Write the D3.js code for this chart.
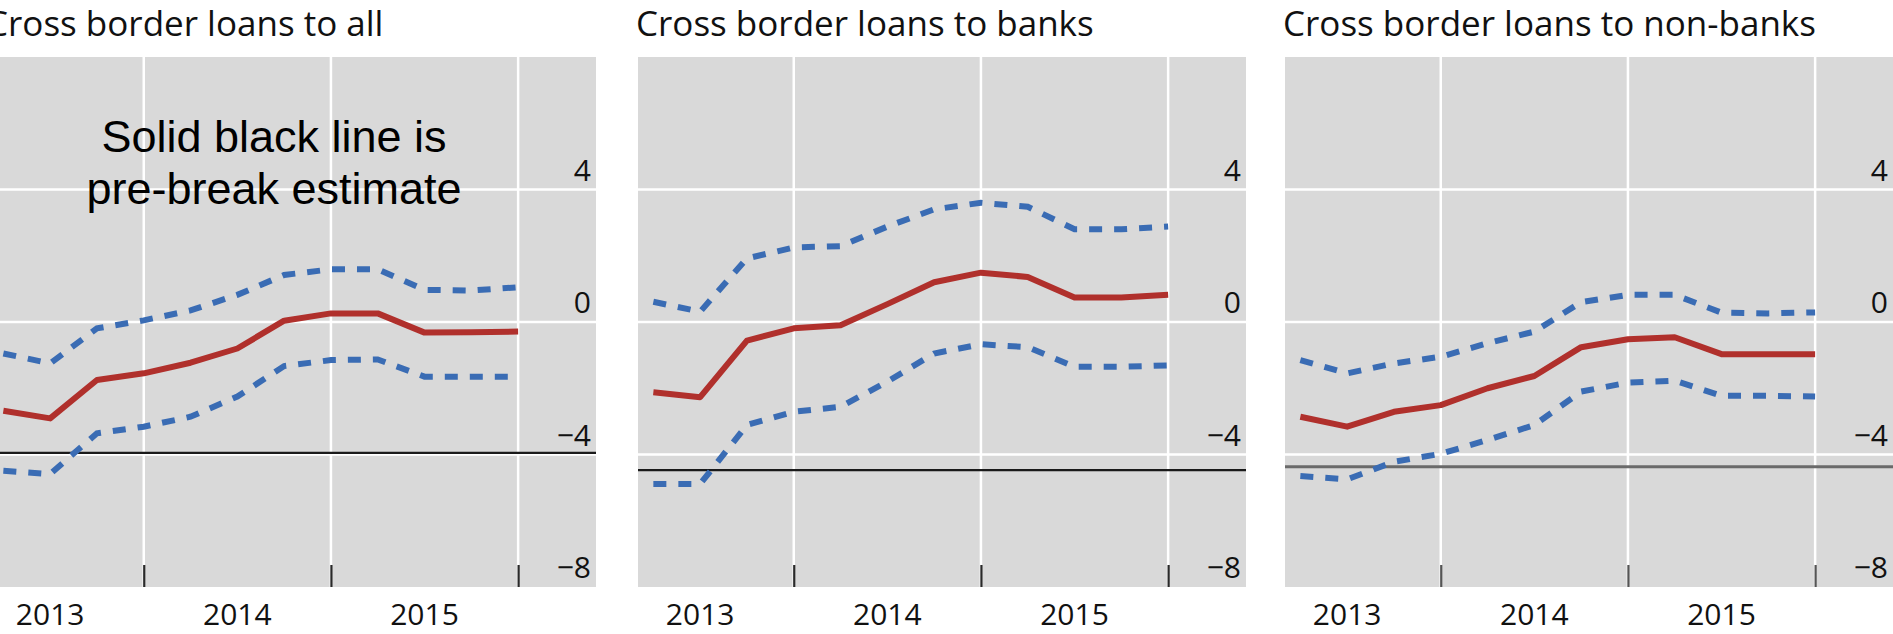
<!DOCTYPE html>
<html>
<head>
<meta charset="utf-8">
<script src="https://cdn.jsdelivr.net/npm/d3@7"></script>
<style>
  body { margin: 0; background: #fff; overflow: hidden; }
  svg text { font-family: "Open Sans", "Noto Sans", sans-serif; fill: #111; }
</style>
</head>
<body>
<div id="chart"></div>
<script>
// quarterly observations, end of quarter
const quarters = ["2013Q1", "2013Q2", "2013Q3", "2013Q4", "2014Q1", "2014Q2",
    "2014Q3", "2014Q4", "2015Q1", "2015Q2", "2015Q3", "2015Q4"]

const titles = ["Cross border loans to all", "Cross border loans to banks", "Cross border loans to non-banks"]

const allMid = [-2.68, -2.91, -1.75, -1.55, -1.23, -0.80, 0.04, 0.26, 0.26, -0.32, -0.31, -0.29]
const allUpper = [-0.95, -1.25, -0.19, 0.05, 0.35, 0.82, 1.42, 1.59, 1.59, 0.97, 0.95, 1.05]
const allLower = [-4.49, -4.59, -3.36, -3.16, -2.86, -2.25, -1.33, -1.15, -1.13, -1.65, -1.65, -1.65]

const banksMid = [-2.12, -2.27, -0.56, -0.19, -0.10, 0.54, 1.20, 1.49, 1.36, 0.74, 0.74, 0.82]
const banksUpper = [0.61, 0.31, 1.92, 2.25, 2.29, 2.88, 3.40, 3.60, 3.48, 2.80, 2.80, 2.88]
const banksLower = [-4.89, -4.89, -3.11, -2.71, -2.56, -1.80, -0.95, -0.67, -0.76, -1.35, -1.35, -1.31]

const nonBanksMid = [-2.86, -3.16, -2.71, -2.51, -2.00, -1.63, -0.76, -0.52, -0.46, -0.97, -0.97, -0.97]
const nonBanksUpper = [-1.15, -1.55, -1.25, -1.05, -0.64, -0.29, 0.60, 0.82, 0.82, 0.28, 0.26, 0.29]
const nonBanksLower = [-4.65, -4.75, -4.22, -3.98, -3.56, -3.11, -2.10, -1.83, -1.77, -2.23, -2.23, -2.25]

// pre-break estimate (horizontal line)
const preBreak = [-3.95, -4.47, -4.37]

const yTicks = [-8, -4, 0, 4]
const yearLabels = [2013, 2014, 2015]
const yearLines = [2014, 2015, 2016]
const noteLines = ["Solid black line is", "pre-break estimate"]

const w = 1893
const h = 634
const panelLeft = [-12, 638, 1285]
const panelW = 608
const plotTop = 57
const plotBottom = 587
const xDomain = [2013.168, 2016.416]
const red = '#b0302c'
const blue = '#3a6cb4'
const breakColor = ['#1a1a1a', '#1a1a1a', '#6a6a6a']
const tickColor = ['#2a2a2a', '#2a2a2a', '#555']

const panels = [
    { mid: allMid, upper: allUpper, lower: allLower },
    { mid: banksMid, upper: banksUpper, lower: banksLower },
    { mid: nonBanksMid, upper: nonBanksUpper, lower: nonBanksLower }
]

const qTime = (q) => +q.slice(0, 4) + (+q.slice(5)) / 4
const fmtTick = (d) => d < 0 ? '\u2212' + Math.abs(d) : String(d)

const svg = d3.select('#chart')
    .append('svg')
    .attr('width', w)
    .attr('height', h)

panels.forEach((p, i) => {
    const g = svg.append('g')
        .attr('transform', 'translate(' + panelLeft[i] + ',0)')

    const x = d3.scaleLinear()
        .domain(xDomain)
        .range([0, panelW])
    const y = d3.scaleLinear()
        .domain([-8, 8])
        .range([plotBottom, plotTop])

    g.append('rect')
        .attr('x', 0)
        .attr('y', plotTop)
        .attr('width', panelW)
        .attr('height', plotBottom - plotTop)
        .attr('fill', '#d9d9d9')

    g.selectAll('.hgrid')
        .data(yTicks.filter(d => d > -8))
        .enter()
        .append('line')
        .attr('x1', 0)
        .attr('x2', panelW)
        .attr('y1', d => y(d))
        .attr('y2', d => y(d))
        .attr('stroke', '#fff')
        .attr('stroke-width', 2.5)

    g.selectAll('.vgrid')
        .data(yearLines)
        .enter()
        .append('line')
        .attr('x1', d => x(d))
        .attr('x2', d => x(d))
        .attr('y1', plotTop)
        .attr('y2', plotBottom)
        .attr('stroke', '#fff')
        .attr('stroke-width', 2.5)

    g.append('line')
        .attr('x1', 0)
        .attr('x2', panelW)
        .attr('y1', y(preBreak[i]))
        .attr('y2', y(preBreak[i]))
        .attr('stroke', breakColor[i])
        .attr('stroke-width', i == 2 ? 3 : 2.2)

    const ticks = g.append('g')
        .attr('transform', 'translate(0,' + plotBottom + ')')
        .call(d3.axisTop(x).tickValues(yearLines).tickSize(22).tickFormat(''))
    ticks.select('.domain').remove()
    ticks.selectAll('line')
        .attr('stroke', tickColor[i])
        .attr('stroke-width', 2.2)

    const line = d3.line()
        .x((d, j) => x(qTime(quarters[j])))
        .y(d => y(d))

    g.selectAll('.band')
        .data([p.upper, p.lower])
        .enter()
        .append('path')
        .attr('d', line)
        .attr('fill', 'none')
        .attr('stroke', blue)
        .attr('stroke-width', 6)
        .attr('stroke-dasharray', '13,12')

    g.append('path')
        .datum(p.mid)
        .attr('d', line)
        .attr('fill', 'none')
        .attr('stroke', red)
        .attr('stroke-width', 6)
        .attr('stroke-linejoin', 'round')

    g.selectAll('.ylab')
        .data(yTicks)
        .enter()
        .append('text')
        .attr('x', panelW - 5)
        .attr('y', d => y(d) - 9)
        .attr('text-anchor', 'end')
        .style('font-size', '30px')
        .text(fmtTick)

    g.selectAll('.xlab')
        .data(yearLabels)
        .enter()
        .append('text')
        .attr('x', d => x(d + 0.5))
        .attr('y', 625)
        .attr('text-anchor', 'middle')
        .style('font-size', '30px')
        .text(d => d)

    g.append('text')
        .attr('x', -2)
        .attr('y', 36)
        .style('font-size', '35px')
        .text(titles[i])
})

svg.append('g')
    .selectAll('text')
    .data(noteLines)
    .enter()
    .append('text')
    .attr('x', 274)
    .attr('y', (d, i) => 152 + i * 52)
    .attr('text-anchor', 'middle')
    .style('font-family', '"Liberation Sans", Arial, sans-serif')
    .style('font-size', '45px')
    .style('fill', '#000')
    .text(d => d)
</script>
</body>
</html>
